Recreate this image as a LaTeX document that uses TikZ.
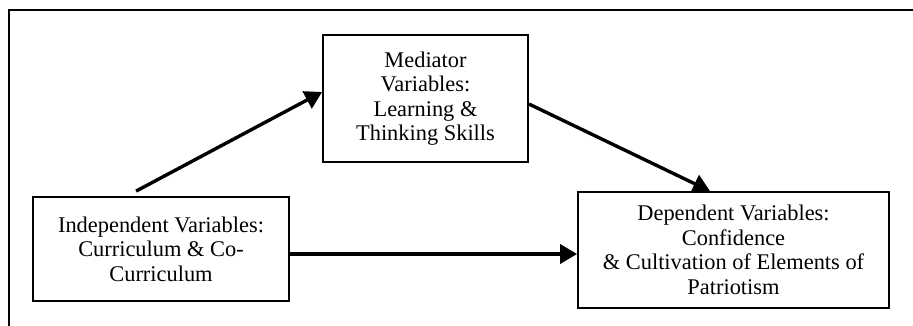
\documentclass[tikz,border=0pt]{standalone}
\usepackage{fontspec}
\setmainfont{Liberation Serif}
\usetikzlibrary{arrows.meta}
\begin{document}
\begin{tikzpicture}[x=1pt,y=-1pt,
  varbox/.style={draw=black, line width=1.8pt, rectangle, inner sep=0pt,
    align=center, font=\fontsize{22.4}{24.5}\selectfont},
  arr/.style={line width=3.4pt, -{Triangle[length=17pt,width=19pt]}},
  frameline/.style={line width=2.2pt}]
  \useasboundingbox (0,0) rectangle (913,326);
  % outer frame (top and left edges)
  \draw[frameline] (9,326) -- (9,10) -- (913,10);
  % variable boxes
  \node[varbox, minimum width=256pt, minimum height=104pt] (ind) at (161,249)
    {Independent Variables:\\Curriculum \& Co-\\Curriculum};
  \node[varbox, minimum width=205pt, minimum height=127pt] (med) at (425.5,98.5)
    {Mediator\\Variables:\\Learning \&\\Thinking Skills};
  \node[varbox, minimum width=311pt, minimum height=116pt] (dep) at (733.5,250)
    {Dependent Variables:\\Confidence\\\& Cultivation of Elements of\\Patriotism};
  % paths between variables
  \draw[arr] ([xshift=104pt,yshift=5pt]ind.north west) -- ([yshift=6.5pt]med.west);
  \draw[arr] ([yshift=-5.5pt]med.east) -- ([xshift=-23.5pt]dep.north);
  \draw[arr] ([yshift=-5pt]ind.east) -- ([yshift=-5pt]ind.east -| dep.west);
\end{tikzpicture}
\end{document}
